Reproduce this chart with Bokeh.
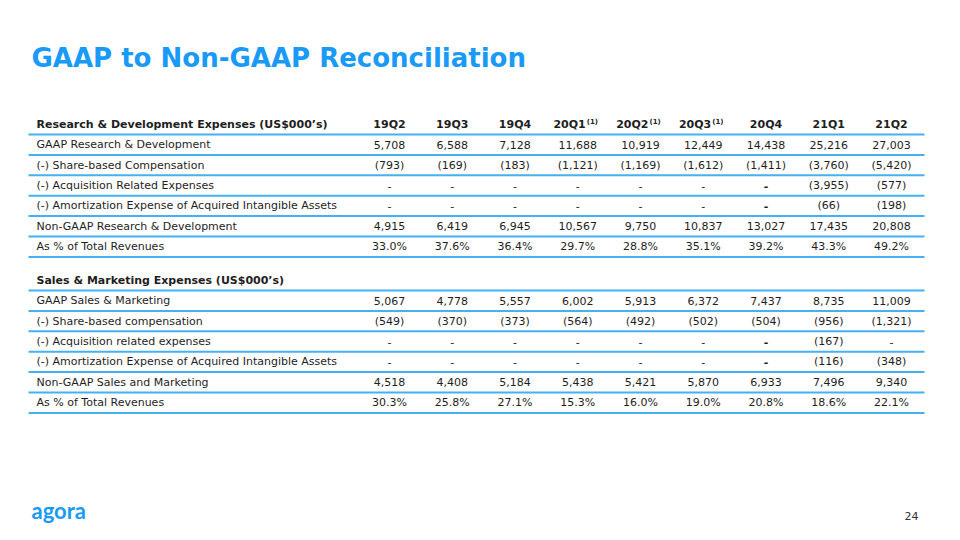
from bokeh.plotting import figure
from bokeh.models import Range1d, ColumnDataSource
from bokeh.core.properties import value
from bokeh.embed import file_html
from bokeh.resources import INLINE

# ---------------- data ----------------
quarters = ["19Q2", "19Q3", "19Q4", "20Q1", "20Q2", "20Q3", "20Q4", "21Q1", "21Q2"]
footnote = [False, False, False, True, True, True, False, False, False]

rd_title = "Research & Development Expenses (US$000\u2019s)"
rd_labels = ["GAAP Research & Development",
             "(-) Share-based Compensation",
             "(-) Acquisition Related Expenses",
             "(-) Amortization Expense of Acquired Intangible Assets",
             "Non-GAAP Research & Development",
             "As % of Total Revenues"]
rd_gaap = [5708, 6588, 7128, 11688, 10919, 12449, 14438, 25216, 27003]
rd_sbc = [-793, -169, -183, -1121, -1169, -1612, -1411, -3760, -5420]
rd_acq = [None, None, None, None, None, None, None, -3955, -577]
rd_amort = [None, None, None, None, None, None, None, -66, -198]
rd_nongaap = [4915, 6419, 6945, 10567, 9750, 10837, 13027, 17435, 20808]
rd_pct = [33.0, 37.6, 36.4, 29.7, 28.8, 35.1, 39.2, 43.3, 49.2]

sm_title = "Sales & Marketing Expenses (US$000\u2019s)"
sm_labels = ["GAAP Sales & Marketing",
             "(-) Share-based compensation",
             "(-) Acquisition related expenses",
             "(-) Amortization Expense of Acquired Intangible Assets",
             "Non-GAAP Sales and Marketing",
             "As % of Total Revenues"]
sm_gaap = [5067, 4778, 5557, 6002, 5913, 6372, 7437, 8735, 11009]
sm_sbc = [-549, -370, -373, -564, -492, -502, -504, -956, -1321]
sm_acq = [None, None, None, None, None, None, None, -167, None]
sm_amort = [None, None, None, None, None, None, None, -116, -348]
sm_nongaap = [4518, 4408, 5184, 5438, 5421, 5870, 6933, 7496, 9340]
sm_pct = [30.3, 25.8, 27.1, 15.3, 16.0, 19.0, 20.8, 18.6, 22.1]

title = "GAAP to Non-GAAP Reconciliation"
page_no = "24"
logo = "agora"

# ---------------- style ----------------
FONT = "DejaVu Sans"
BLUE = "#1a9af7"
LINE = "#45b0f2"
TXT = "#1e1e1e"
FS = "11px"

col_x0, col_dx = 389, 62.75
label_x = 36
line_x0, line_x1 = 28, 924
row_h = 20.4


def fmt(v, pct=False):
    if v is None:
        return "-"
    if pct:
        return f"{v:.1f}%"
    if v < 0:
        return f"({-v:,})"
    return f"{v:,}"


p = figure(width=944, height=524, output_backend="svg", toolbar_location=None,
           x_range=Range1d(0, 944), y_range=Range1d(524, 0),
           min_border=0, outline_line_color=None)
p.axis.visible = False
p.grid.visible = False
p.background_fill_color = "white"
p.border_fill_color = "white"

# title
p.text(x=[31], y=[57], text=[title], text_font=value(FONT), text_font_style="bold",
       text_font_size="26px", text_color=BLUE, text_baseline="middle", text_align="left")


def section(y_head, head_text, labels, rows, show_quarters, dash_bold_col=6):
    # header
    p.text(x=[label_x], y=[y_head], text=[head_text], text_font=value(FONT),
           text_font_style="bold", text_font_size=FS, text_color=TXT,
           text_baseline="middle", text_align="left")
    if show_quarters:
        xs, ts, al, sx, st = [], [], [], [], []
        for i, q in enumerate(quarters):
            cx = col_x0 + i * col_dx
            ts.append(q)
            if footnote[i]:
                xs.append(cx + 8); al.append("right")
                sx.append(cx + 9); st.append("(1)")
            else:
                xs.append(cx); al.append("center")
        src_q = ColumnDataSource(dict(x=xs, t=ts, a=al))
        p.text(x="x", y=y_head, text="t", text_align="a", source=src_q,
               text_font=value(FONT), text_font_style="bold", text_font_size=FS,
               text_color=TXT, text_baseline="middle")
        p.text(x=sx, y=[y_head - 3] * len(sx), text=st, text_font=value(FONT),
               text_font_style="bold", text_font_size="7px", text_color=TXT,
               text_baseline="middle", text_align="left")
    ys_lines = [y_head + 10 + k * row_h for k in range(len(rows) + 1)]
    p.segment(x0=[line_x0] * len(ys_lines), x1=[line_x1] * len(ys_lines),
              y0=ys_lines, y1=ys_lines, line_color=LINE, line_width=2)
    for r, (lab, vals) in enumerate(zip(labels, rows)):
        y = y_head + 10 + (r + 0.5) * row_h
        p.text(x=[label_x], y=[y], text=[lab], text_font=value(FONT),
               text_font_size=FS, text_color=TXT, text_baseline="middle",
               text_align="left")
        pct = r == len(rows) - 1
        txt = [fmt(v, pct) for v in vals]
        xs = [col_x0 + i * col_dx for i in range(len(vals))]
        styles = ["bold" if (v is None and i == dash_bold_col) else "normal"
                  for i, v in enumerate(vals)]
        src = ColumnDataSource(dict(x=xs, t=txt, s=styles))
        p.text(x="x", y=y, text="t", text_font_style="s", source=src,
               text_font=value(FONT), text_font_size=FS, text_color=TXT,
               text_baseline="middle", text_align="center")


section(124, rd_title, rd_labels,
        [rd_gaap, rd_sbc, rd_acq, rd_amort, rd_nongaap, rd_pct], True)
section(280, sm_title, sm_labels,
        [sm_gaap, sm_sbc, sm_acq, sm_amort, sm_nongaap, sm_pct], False)

# footer
p.text(x=[31], y=[510], text=[logo], text_font=value("Lato"), text_font_style="bold",
       text_font_size="22px", text_color=BLUE, text_baseline="middle", text_align="left")
p.text(x=[918], y=[515], text=[page_no], text_font=value(FONT), text_font_size="11px",
       text_color="#333333", text_baseline="middle", text_align="right")

open("out.html", "w").write(file_html(p, INLINE))
